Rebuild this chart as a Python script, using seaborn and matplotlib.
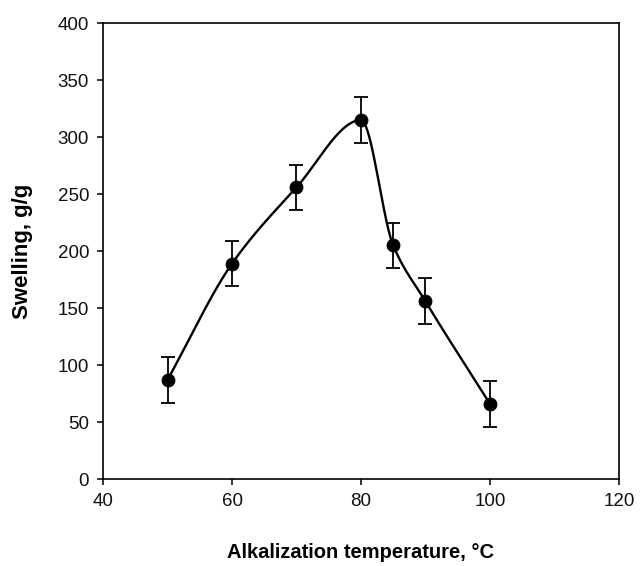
import numpy as np
import pandas as pd
import matplotlib
matplotlib.use("Agg")
import matplotlib.pyplot as plt
import seaborn as sns

# Data
temperature = [50, 60, 70, 80, 85, 90, 100]
swelling = [87, 189, 256, 315, 205, 156, 66]
error = [20, 20, 20, 20, 20, 20, 20]

x_ticks = [40, 60, 80, 100, 120]
y_ticks = [0, 50, 100, 150, 200, 250, 300, 350, 400]


def pchip_curve(x, y, n=400):
    """Shape-preserving (Fritsch-Carlson) smooth curve through the points."""
    x = np.asarray(x, float)
    y = np.asarray(y, float)
    h = np.diff(x)
    delta = np.diff(y) / h
    k = len(x)
    d = np.zeros(k)
    for i in range(1, k - 1):
        if delta[i - 1] * delta[i] <= 0:
            d[i] = 0.0
        else:
            w1 = 2 * h[i] + h[i - 1]
            w2 = h[i] + 2 * h[i - 1]
            d[i] = (w1 + w2) / (w1 / delta[i - 1] + w2 / delta[i])
    d[0] = delta[0]
    d[-1] = delta[-1]
    xs = np.linspace(x[0], x[-1], n)
    idx = np.clip(np.searchsorted(x, xs) - 1, 0, k - 2)
    t = (xs - x[idx]) / h[idx]
    h00 = 2 * t**3 - 3 * t**2 + 1
    h10 = t**3 - 2 * t**2 + t
    h01 = -2 * t**3 + 3 * t**2
    h11 = t**3 - t**2
    ys = h00 * y[idx] + h10 * h[idx] * d[idx] + h01 * y[idx + 1] + h11 * h[idx] * d[idx + 1]
    return xs, ys


sns.set_style("ticks")
plt.rcParams['font.family'] = ['Liberation Sans', 'DejaVu Sans']

fig = plt.figure(figsize=(6.4, 5.66), dpi=100)
ax = fig.add_axes([0.161, 0.1537, 0.806, 0.8053])

df = pd.DataFrame({"temperature": temperature, "swelling": swelling, "error": error})
xs, ys = pchip_curve(temperature, swelling)
curve = pd.DataFrame({"t": xs, "s": ys})

sns.lineplot(data=curve, x="t", y="s", ax=ax, color="black", linewidth=1.7, sort=False)
ax.errorbar(df["temperature"], df["swelling"], yerr=df["error"], fmt="none",
            ecolor="black", elinewidth=1.3, capsize=5, capthick=1.3, zorder=3)
sns.scatterplot(data=df, x="temperature", y="swelling", ax=ax, color="black",
                s=85, edgecolor="black", zorder=4)

ax.set_xlim(40, 120)
ax.set_ylim(0, 400)
ax.set_xticks(x_ticks)
ax.set_yticks(y_ticks)
ax.tick_params(axis="both", direction="out", length=4, width=1.1,
               labelsize=13.5, colors="black", labelcolor="#111111", pad=6)
for sp in ax.spines.values():
    sp.set_visible(True)
    sp.set_linewidth(1.2)
    sp.set_color("black")

ax.set_xlabel("Alkalization temperature, °C", fontsize=14.5, fontweight="bold",
              labelpad=24, color="black")
ax.set_ylabel("Swelling, g/g", fontsize=16, fontweight="bold", labelpad=18,
              color="black")

fig.savefig("out.png", dpi=100)
